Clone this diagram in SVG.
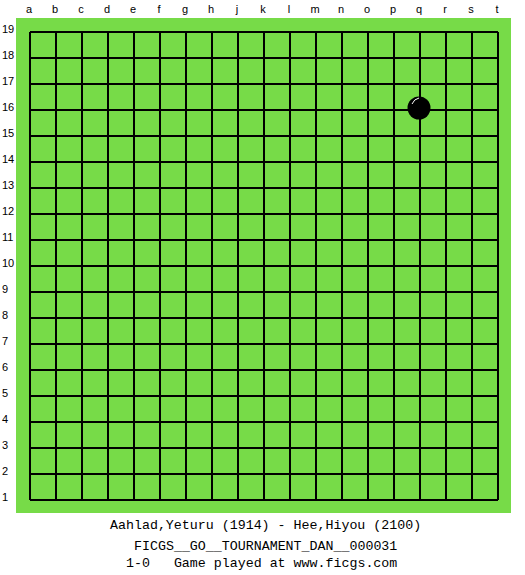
<svg xmlns="http://www.w3.org/2000/svg" width="525" height="575" viewBox="0 0 525 575">
<style>
.lbl{font-family:"Liberation Sans","DejaVu Sans",sans-serif;font-size:11px;fill:#000}
.cap{font-family:"Liberation Mono","DejaVu Sans Mono",monospace;font-size:13.3px;fill:#000;white-space:pre}
.grid{stroke:#000;stroke-width:2;fill:none}
</style>
<rect width="525" height="575" fill="#fff"/>
<g id="board">
<rect x="16" y="18" width="495" height="495" fill="#77db48"/>
</g>
<g id="grid">
<path class="grid" d="M30 32V500M56 32V500M82 32V500M108 32V500M134 32V500M160 32V500M186 32V500M212 32V500M238 32V500M264 32V500M290 32V500M316 32V500M342 32V500M368 32V500M394 32V500M420 32V500M446 32V500M472 32V500M498 32V500"/>
<path class="grid" d="M30 32H498M30 58H498M30 84H498M30 110H498M30 136H498M30 162H498M30 188H498M30 214H498M30 240H498M30 266H498M30 292H498M30 318H498M30 344H498M30 370H498M30 396H498M30 422H498M30 448H498M30 474H498M30 500H498"/>
</g>
<g id="col-labels" class="lbl" text-anchor="middle">
<text x="29" y="13">a</text><text x="55" y="13">b</text><text x="81" y="13">c</text><text x="107" y="13">d</text><text x="133" y="13">e</text><text x="159" y="13">f</text><text x="185" y="13">g</text><text x="211" y="13">h</text><text x="237" y="13">j</text><text x="263" y="13">k</text><text x="289" y="13">l</text><text x="315" y="13">m</text><text x="341" y="13">n</text><text x="367" y="13">o</text><text x="393" y="13">p</text><text x="419" y="13">q</text><text x="445" y="13">r</text><text x="471" y="13">s</text><text x="497" y="13">t</text>
</g>
<g id="row-labels" class="lbl">
<text x="2" y="33">19</text><text x="2" y="59">18</text><text x="2" y="85">17</text><text x="2" y="111">16</text><text x="2" y="137">15</text><text x="2" y="163">14</text><text x="2" y="189">13</text><text x="2" y="215">12</text><text x="2" y="241">11</text><text x="2" y="267">10</text><text x="2" y="293">9</text><text x="2" y="319">8</text><text x="2" y="345">7</text><text x="2" y="371">6</text><text x="2" y="397">5</text><text x="2" y="423">4</text><text x="2" y="449">3</text><text x="2" y="475">2</text><text x="2" y="501">1</text>
</g>
<g id="stone-q16">
<circle cx="419" cy="108" r="11.5" fill="#000"/>
<path d="M412 104 Q414 99 419 98" stroke="#fff" stroke-width="1" fill="none"/>
</g>
<g id="caption" class="cap">
<text x="110" y="529">Aahlad,Yeturu (1914) - Hee,Hiyou (2100)</text>
<text x="134" y="550">FICGS__GO__TOURNAMENT_DAN__000031</text>
<text x="126" y="567" xml:space="preserve">1-0   Game played at www.ficgs.com</text>
</g>
</svg>
